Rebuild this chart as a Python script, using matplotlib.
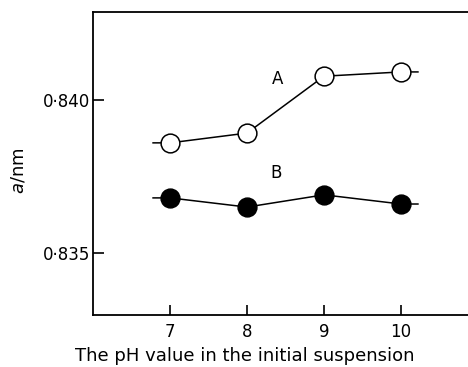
import matplotlib
matplotlib.use("Agg")
import matplotlib.pyplot as plt

ph = [7, 8, 9, 10]
lattice_a = [0.83860, 0.83892, 0.84078, 0.84092]
lattice_b = [0.83680, 0.83650, 0.83690, 0.83660]
y_ticks = [0.835, 0.840]
y_tick_labels = ["0·835", "0·840"]

plt.rcParams["font.family"] = ["DejaVu Sans"]

fig = plt.figure(figsize=(4.68, 3.67), dpi=100)
ax = fig.add_axes([93 / 468, 52 / 367, 385 / 468, 303 / 367])

stub = 0.22
for values, face in ((lattice_a, "white"), (lattice_b, "black")):
    xs = [ph[0] - stub] + ph + [ph[-1] + stub]
    ys = [values[0]] + values + [values[-1]]
    ax.plot(xs, ys, color="black", linewidth=1.1, zorder=1)
    ax.plot(ph, values, linestyle="none", marker="o", markersize=13.5,
            markerfacecolor=face, markeredgecolor="black", markeredgewidth=1.1, zorder=2)

ax.text(8.40, 0.84069, "A", fontsize=12, ha="center", va="center")
ax.text(8.38, 0.83761, "B", fontsize=12, ha="center", va="center")

ax.set_xlim(6, 11)
ax.set_ylim(0.83297, 0.84288)
ax.set_xticks(ph)
ax.set_yticks(y_ticks)
ax.set_yticklabels(y_tick_labels)
ax.tick_params(direction="in", length=8, width=1.2, labelsize=12, pad=2)
ax.tick_params(axis="x", length=7, pad=6)
ax.spines["right"].set_visible(False)
for side in ("left", "top", "bottom"):
    ax.spines[side].set_linewidth(1.3)

ax.set_xlabel("The pH value in the initial suspension", fontsize=13)
ax.xaxis.set_label_coords((245 - 93) / 385, -0.105)
ax.set_ylabel("$a$/nm", fontsize=13)
ax.yaxis.set_label_coords(-0.17, 0.475)

fig.savefig("out.png", dpi=100)
